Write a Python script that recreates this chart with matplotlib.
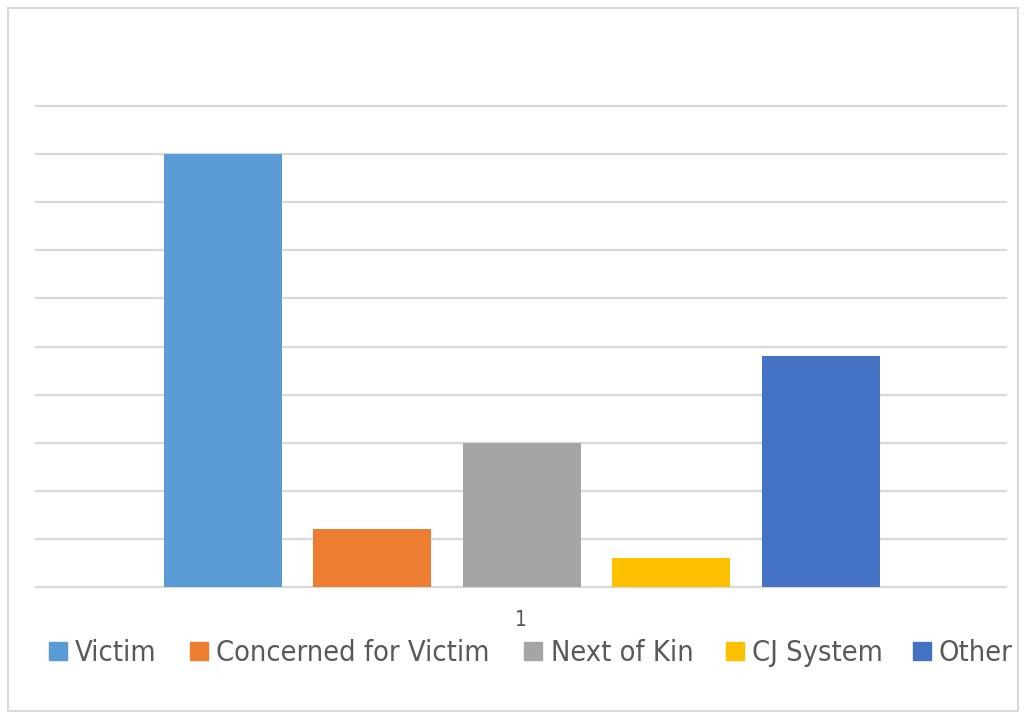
import matplotlib.pyplot as plt
from matplotlib.patches import Rectangle

categories = ['Victim', 'Concerned for Victim', 'Next of Kin', 'CJ System', 'Other']
values = [90, 12, 30, 6, 48]
colors = ['#5B9BD5', '#ED7D31', '#A5A5A5', '#FFC000', '#4472C4']
grid_ticks = [0, 10, 20, 30, 40, 50, 60, 70, 80, 90, 100]

# legend layout (pixels from top-left): square left edge, text left edge
legend_sq_x = [49, 190, 524, 726, 913]
legend_txt_x = [75, 216, 551, 752, 938]

plt.rcParams['font.family'] = ['DejaVu Sans']
plt.rcParams['font.stretch'] = 'condensed'

W, H = 1026, 717
fig = plt.figure(figsize=(W / 100, H / 100), dpi=100)
ax = fig.add_axes([36 / W, 1 - 587 / H, 970 / W, 481 / H])

for i, (val, col) in enumerate(zip(values, colors)):
    ax.bar(i, val, width=0.79, color=col, zorder=3)

ax.set_xlim(-1.25, 5.24)
ax.set_ylim(0, 100)
for g in grid_ticks:
    ax.axhline(g, color='#d9d9d9', lw=1.6, zorder=1, clip_on=False)
ax.set_xticks([])
ax.set_yticks([])
for s in ax.spines.values():
    s.set_visible(False)
fig.text(521 / W, 1 - 620 / H, '1', ha='center', va='center',
         fontsize=15, color='#595959', fontstretch='condensed')

# legend drawn by hand so the item positions match
renderer = fig.canvas.get_renderer()
probe = fig.text(0, 0, categories[1], fontsize=20, fontstretch='condensed')
w = probe.get_window_extent(renderer).width
probe.remove()
fs = 20 * 274 / w

for sx, tx, cat, col in zip(legend_sq_x, legend_txt_x, categories, colors):
    fig.patches.append(Rectangle((sx / W, 1 - 660 / H), 18 / W, 18 / H,
                                 transform=fig.transFigure, color=col))
    fig.text(tx / W, 1 - 661 / H, cat, ha='left', va='baseline',
             fontsize=fs, color='#595959', fontstretch='condensed')

fig.patches.append(Rectangle((8 / W, 6 / H), 1010 / W, 703 / H,
                             transform=fig.transFigure, fill=False,
                             edgecolor='#d9d9d9', lw=1.5))

fig.savefig('out.png', dpi=100)
